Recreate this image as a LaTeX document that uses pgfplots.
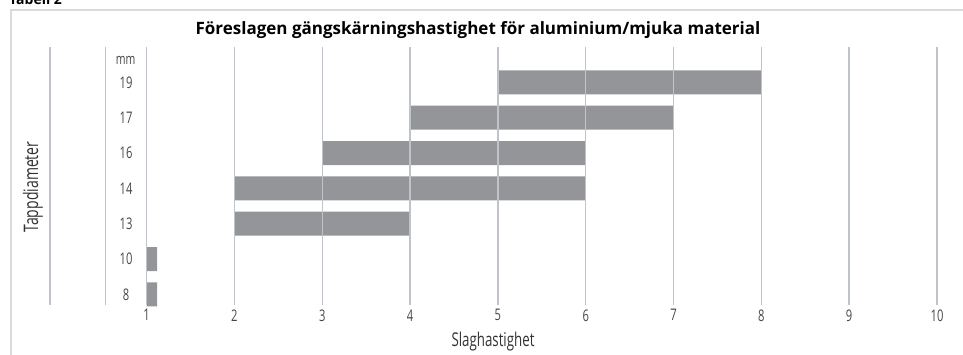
\documentclass[border=0pt]{standalone}
\usepackage{pgfplots}
\pgfplotsset{compat=1.18}
\usepackage{fontspec}
\setmainfont{Open Sans}
\newfontfamily\cond{Open Sans}[FakeStretch=0.7]
\definecolor{barc}{RGB}{147,149,152}
\definecolor{gridc}{RGB}{190,196,201}
\definecolor{framec}{RGB}{218,218,218}
\begin{document}
\begin{tikzpicture}[x=1pt,y=1pt]
\path[use as bounding box] (0,0) rectangle (963,355);
\draw[framec, line width=1.6pt] (11,-10) -- (11,345) -- (980,345);
\node[anchor=base west, font=\bfseries\fontsize{14}{16}\selectfont, inner sep=0pt] at (9,350.5) {Tabell 2};
\node[font=\bfseries\fontsize{17}{20}\selectfont] at (478,325) {Föreslagen gängskärningshastighet för aluminium/mjuka material};
\node[rotate=90, font=\cond\fontsize{20}{22}\selectfont, color=black!80] at (33,168) {Tappdiameter};
\node[font=\cond\fontsize{19}{21}\selectfont, color=black!80] at (493,13) {Slaghastighet};
\begin{axis}[
  at={(50pt,50pt)}, anchor=south west,
  scale only axis, width=887pt, height=258pt,
  xmin=-0.1, xmax=10, ymin=-0.3, ymax=7,
  xbar stacked, bar width=24pt,
  axis on top,
  axis line style={draw=none},
  tick style={draw=none},
  xtick={1,2,3,4,5,6,7,8,9,10},
  extra x ticks={-0.1,0.53},
  extra x tick labels={},
  extra x tick style={grid=major},
  xmajorgrids=true,
  major grid style={color=gridc, line width=1.4pt},
  ytick={0,1,2,3,4,5,6},
  yticklabels={8,10,13,14,16,17,19},
  /pgf/number format/assume math mode=true,
  ticklabel style={font=\cond\fontsize{16}{18}\selectfont, color=black!72},
  yticklabel style={anchor=center, xshift=76pt},
  xticklabel style={yshift=-1pt},
  clip=false,
]
\addplot[fill=none, draw=none] coordinates {(1,0) (1,1) (2,2) (2,3) (3,4) (4,5) (5,6)};
\addplot[fill=barc, draw=none] coordinates {(0.12,0) (0.12,1) (2,2) (4,3) (3,4) (3,5) (3,6)};
\node[font=\cond\fontsize{15}{17}\selectfont, color=black!72] at (axis cs:0.76,6.62) {mm};
\end{axis}
\end{tikzpicture}
\end{document}
